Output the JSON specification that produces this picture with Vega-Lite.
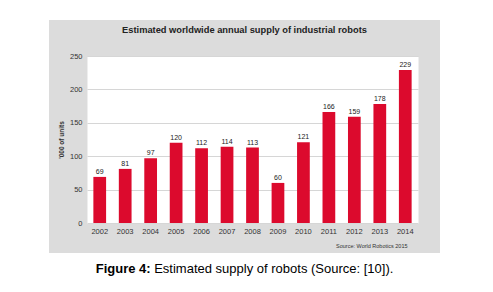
{
  "$schema": "https://vega.github.io/schema/vega-lite/v6.json",
  "width": 391,
  "height": 233,
  "autosize": {"type": "none"},
  "padding": {"left": 49, "top": 20, "right": 53, "bottom": 39},
  "background": "#ffffff",
  "config": {
    "font": "Liberation Sans",
    "view": {"fill": "#dcdcdc", "stroke": null}
  },
  "title": {
    "text": "Estimated worldwide annual supply of industrial robots",
    "orient": "top",
    "anchor": "middle",
    "frame": "group",
    "offset": -22.6,
    "baseline": "alphabetic",
    "fontSize": 9.3,
    "fontWeight": "bold",
    "color": "#222222"
  },
  "data": {
    "values": [
      {"year": "2002", "units": 69},
      {"year": "2003", "units": 81},
      {"year": "2004", "units": 97},
      {"year": "2005", "units": 120},
      {"year": "2006", "units": 112},
      {"year": "2007", "units": 114},
      {"year": "2008", "units": 113},
      {"year": "2009", "units": 60},
      {"year": "2010", "units": 121},
      {"year": "2011", "units": 166},
      {"year": "2012", "units": 159},
      {"year": "2013", "units": 178},
      {"year": "2014", "units": 229}
    ]
  },
  "resolve": {"axis": {"y": "independent"}},
  "layer": [
    {
      "mark": {"type": "bar", "color": "#dc0a2d"},
      "encoding": {
        "x": {
          "field": "year",
          "type": "ordinal",
          "scale": {"range": [38, 369], "paddingInner": 0.5, "paddingOuter": 0.25},
          "axis": {
            "title": "Source: World Robotics 2015",
            "titleFontSize": 5.5,
            "titleFontWeight": "normal",
            "titleColor": "#333333",
            "titleX": 358,
            "titleAlign": "right",
            "titlePadding": 8,
            "labelAngle": 0,
            "labelFontSize": 7.5,
            "labelColor": "#333333",
            "labelPadding": 4.5,
            "ticks": false,
            "domain": false,
            "grid": false,
            "offset": -30
          }
        },
        "y": {
          "field": "units",
          "type": "quantitative",
          "scale": {"domain": [0, 250], "range": [203, 36], "nice": false, "zero": true},
          "axis": {
            "orient": "left",
            "title": null,
            "values": [125],
            "labels": false,
            "ticks": false,
            "domain": false,
            "offset": -38,
            "grid": true,
            "gridColor": "#ffffff",
            "gridWidth": 167
          }
        }
      }
    },
    {
      "mark": {"type": "text", "baseline": "alphabetic", "dy": -3, "fontSize": 7, "color": "#222222"},
      "encoding": {
        "x": {"field": "year", "type": "ordinal"},
        "y": {
          "field": "units",
          "type": "quantitative",
          "axis": {
            "orient": "left",
            "title": "'000 of units",
            "titleFontSize": 6.5,
            "titleFontWeight": "bold",
            "titleColor": "#333333",
            "titlePadding": 4.5,
            "values": [0, 50, 100, 150, 200, 250],
            "labelOverlap": false,
            "labelFontSize": 7.5,
            "labelColor": "#333333",
            "labelPadding": 5,
            "ticks": false,
            "domain": false,
            "offset": -38,
            "grid": true,
            "gridColor": "#d6d6d6",
            "gridWidth": 1
          }
        },
        "text": {"field": "units", "type": "quantitative"}
      }
    },
    {
      "data": {"values": [{"part": "label"}]},
      "mark": {"type": "text", "text": "Figure 4:", "align": "right", "baseline": "middle", "dx": -93.9, "fontSize": 13, "fontWeight": "bold", "color": "#000000"},
      "encoding": {
        "y": {"datum": -68.4, "type": "quantitative", "axis": null}
      }
    },
    {
      "data": {"values": [{"part": "caption"}]},
      "mark": {"type": "text", "text": "Estimated supply of robots (Source: [10]).", "align": "left", "baseline": "middle", "dx": -90.3, "fontSize": 13, "fontWeight": "normal", "color": "#000000"},
      "encoding": {
        "y": {"datum": -68.4, "type": "quantitative", "axis": null}
      }
    }
  ]
}
